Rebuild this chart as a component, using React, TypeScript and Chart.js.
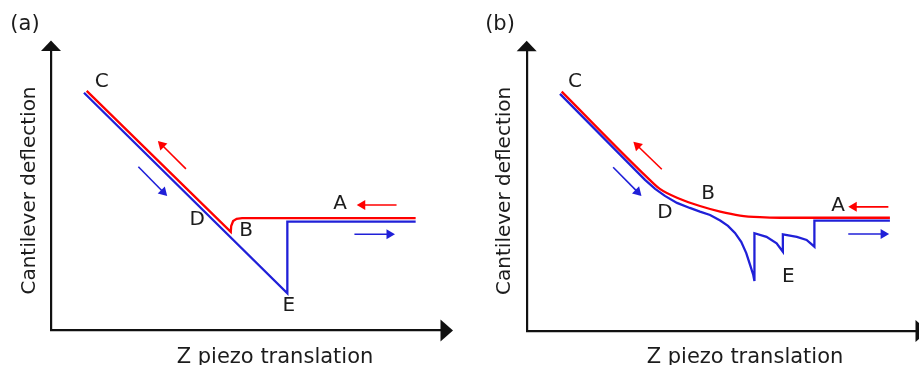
import React, { useEffect, useRef } from "react";
import { Chart, registerables } from "chart.js";
Chart.register(...registerables);

const FONT = "'DejaVu Sans', Verdana, sans-serif";
const RED = "#ff0000";
const BLUE = "#2020d8";
const INK = "#1c1c1c";
const AXIS = "#111111";

const X_TITLE = "Z piezo translation";
const Y_TITLE = "Cantilever deflection";

// ---------- Panel (a) ----------
const A_RED: number[][] = [[9.15, 85.6], [46.1, 35.2], [46.2, 37.3], [46.7, 39.1], [47.6, 39.9], [49.0, 40.1], [93.5, 40.1]];
const A_BLUE: number[][] = [[8.46, 84.9], [60.6, 13.3], [60.6, 38.9], [93.5, 38.9]];
const A_RED_ARROWS: number[][] = [[34.6, 57.7, 27.4, 67.7], [88.6, 44.8, 78.4, 44.8]];
const A_BLUE_ARROWS: number[][] = [[22.4, 58.5, 29.8, 48.0], [77.8, 34.4, 88.2, 34.4]];
const A_LABELS: string[] = ["C", "D", "B", "A", "E"];
const A_LABEL_POS: number[][] = [[13.0, 88.9], [37.5, 39.5], [50.0, 35.5], [74.1, 45.4], [61.0, 8.9]];

// ---------- Panel (b) ----------
const B_RED: number[][] = [[8.99, 85.4], [30.8, 55.0], [34.2, 50.7], [39.4, 47.1], [44.5, 44.6], [49.7, 42.6], [54.8, 41.2], [59.9, 40.6], [65.1, 40.4], [93.3, 40.4]];
const B_BLUE: number[][] = [
  [8.55, 84.6], [30.4, 53.9], [33.0, 50.7], [35.5, 48.2], [38.6, 45.7], [41.9, 43.9], [44.5, 42.6],
  [47.1, 41.4], [49.7, 39.4], [51.7, 37.5], [53.5, 35.0], [55.1, 31.8], [56.4, 27.8], [57.4, 23.5],
  [58.2, 20.0], [58.5, 17.8], [58.5, 34.9], [61.6, 33.6], [64.2, 31.3], [65.8, 28.3], [65.8, 34.5],
  [69.4, 33.6], [71.9, 32.5], [73.9, 30.1], [73.9, 39.4], [93.3, 39.4],
];
const B_RED_ARROWS: number[][] = [[34.7, 57.7, 27.4, 67.5], [92.9, 44.3, 82.6, 44.3]];
const B_BLUE_ARROWS: number[][] = [[22.2, 58.4, 29.5, 48.2], [82.6, 34.6, 93.1, 34.6]];
const B_LABELS: string[] = ["C", "B", "D", "A", "E"];
const B_LABEL_POS: number[][] = [[12.4, 88.9], [46.6, 49.1], [35.5, 42.0], [80.0, 44.6], [67.2, 19.4]];

type PanelProps = {
  red: number[][];
  blue: number[][];
  redArrows: number[][];
  blueArrows: number[][];
  labels: string[];
  labelPos: number[][];
  smoothRed: boolean;
  tag: string;
  left: number;
  width: number;
  pad: { left: number; right: number; top: number; bottom: number };
  yTitlePad: { top: number; bottom: number };
  tagX: number;
  tagY: number;
  xTitleX: number;
  xTitleY: number;
};

function drawArrow(ctx: CanvasRenderingContext2D, x1: number, y1: number, x2: number, y2: number, color: string) {
  const dx = x2 - x1, dy = y2 - y1;
  const len = Math.hypot(dx, dy);
  const ux = dx / len, uy = dy / len;
  const hl = 8.5, hw = 5;
  const bx = x2 - ux * hl, by = y2 - uy * hl;
  ctx.strokeStyle = color;
  ctx.fillStyle = color;
  ctx.lineWidth = 1.6;
  ctx.beginPath();
  ctx.moveTo(x1, y1);
  ctx.lineTo(bx + ux, by + uy);
  ctx.stroke();
  ctx.beginPath();
  ctx.moveTo(x2, y2);
  ctx.lineTo(bx - uy * hw, by + ux * hw);
  ctx.lineTo(bx + uy * hw, by - ux * hw);
  ctx.closePath();
  ctx.fill();
}

function Panel(p: PanelProps) {
  const ref = useRef<HTMLCanvasElement | null>(null);
  useEffect(() => {
    if (!ref.current) return;
    const decor = {
      id: "decor",
      afterDraw(chart: any) {
        const { ctx, chartArea: ca, scales } = chart;
        const px = (v: number) => scales.x.getPixelForValue(v);
        const py = (v: number) => scales.y.getPixelForValue(v);
        ctx.save();
        // axis arrowheads
        ctx.fillStyle = AXIS;
        ctx.beginPath();
        ctx.moveTo(ca.left, ca.top - 10);
        ctx.lineTo(ca.left - 10, ca.top + 0.5);
        ctx.lineTo(ca.left + 10, ca.top + 0.5);
        ctx.closePath();
        ctx.fill();
        ctx.beginPath();
        ctx.moveTo(ca.right + 12, ca.bottom);
        ctx.lineTo(ca.right - 0.5, ca.bottom - 11);
        ctx.lineTo(ca.right - 0.5, ca.bottom + 11);
        ctx.closePath();
        ctx.fill();
        // direction arrows
        p.redArrows.forEach((a) => drawArrow(ctx, px(a[0]), py(a[1]), px(a[2]), py(a[3]), RED));
        p.blueArrows.forEach((a) => drawArrow(ctx, px(a[0]), py(a[1]), px(a[2]), py(a[3]), BLUE));
        // point labels
        ctx.fillStyle = INK;
        ctx.font = `20px ${FONT}`;
        ctx.textAlign = "center";
        ctx.textBaseline = "middle";
        p.labels.forEach((t, i) => ctx.fillText(t, px(p.labelPos[i][0]), py(p.labelPos[i][1])));
        // panel tag
        ctx.font = `21px ${FONT}`;
        ctx.fillText(p.tag, p.tagX, p.tagY);
        // x title
        ctx.textBaseline = "alphabetic";
        ctx.fillText(X_TITLE, p.xTitleX, p.xTitleY);
        ctx.restore();
      },
    };
    const chart = new Chart(ref.current, {
      type: "line",
      data: {
        datasets: [
          {
            data: p.red.map(([x, y]) => ({ x, y })),
            borderColor: RED,
            borderWidth: 2.3,
            pointRadius: 0,
            cubicInterpolationMode: p.smoothRed ? "monotone" : "default",
            tension: p.smoothRed ? 0.4 : 0,
            fill: false,
          },
          {
            data: p.blue.map(([x, y]) => ({ x, y })),
            borderColor: BLUE,
            borderWidth: 2.3,
            pointRadius: 0,
            tension: 0,
            fill: false,
          },
        ],
      },
      options: {
        animation: false,
        responsive: false,
        events: [],
        layout: { padding: p.pad },
        plugins: { legend: { display: false }, tooltip: { enabled: false }, title: { display: false } },
        scales: {
          x: {
            type: "linear",
            min: 0,
            max: 100,
            grid: { display: false, drawTicks: false, tickLength: 0 },
            ticks: { display: false },
            border: { display: true, color: AXIS, width: 2.2 },
          },
          y: {
            type: "linear",
            min: 0,
            max: 100,
            grid: { display: false, drawTicks: false, tickLength: 0 },
            ticks: { display: false },
            border: { display: true, color: AXIS, width: 2.2 },
            title: {
              display: true,
              text: Y_TITLE,
              color: INK,
              font: { family: FONT, size: 20, lineHeight: 1.2 },
              padding: p.yTitlePad,
            },
          },
        },
      },
      plugins: [decor],
    } as any);
    return () => chart.destroy();
  }, []);
  return (
    <canvas
      ref={ref}
      width={p.width}
      height={365}
      style={{ position: "absolute", left: p.left, top: 0, width: p.width, height: 365 }}
    />
  );
}

export default function App() {
  return (
    <div style={{ position: "fixed", left: 0, top: 0, width: 919, height: 365, background: "#fff", overflow: "hidden" }}>
      <Panel
        red={A_RED}
        blue={A_BLUE}
        redArrows={A_RED_ARROWS}
        blueArrows={A_BLUE_ARROWS}
        labels={A_LABELS}
        labelPos={A_LABEL_POS}
        smoothRed={false}
        tag="(a)"
        left={0}
        width={460}
        pad={{ left: 0, right: 19, top: 50.5, bottom: 34.5 }}
        yTitlePad={{ top: 18, bottom: 9 }}
        tagX={25}
        tagY={25}
        xTitleX={275}
        xTitleY={363.3}
      />
      <Panel
        red={B_RED}
        blue={B_BLUE}
        redArrows={B_RED_ARROWS}
        blueArrows={B_BLUE_ARROWS}
        labels={B_LABELS}
        labelPos={B_LABEL_POS}
        smoothRed={true}
        tag="(b)"
        left={460}
        width={459}
        pad={{ left: 0, right: 3, top: 50.7, bottom: 34 }}
        yTitlePad={{ top: 33, bottom: 9.7 }}
        tagX={40}
        tagY={25}
        xTitleX={285}
        xTitleY={363.3}
      />
    </div>
  );
}
